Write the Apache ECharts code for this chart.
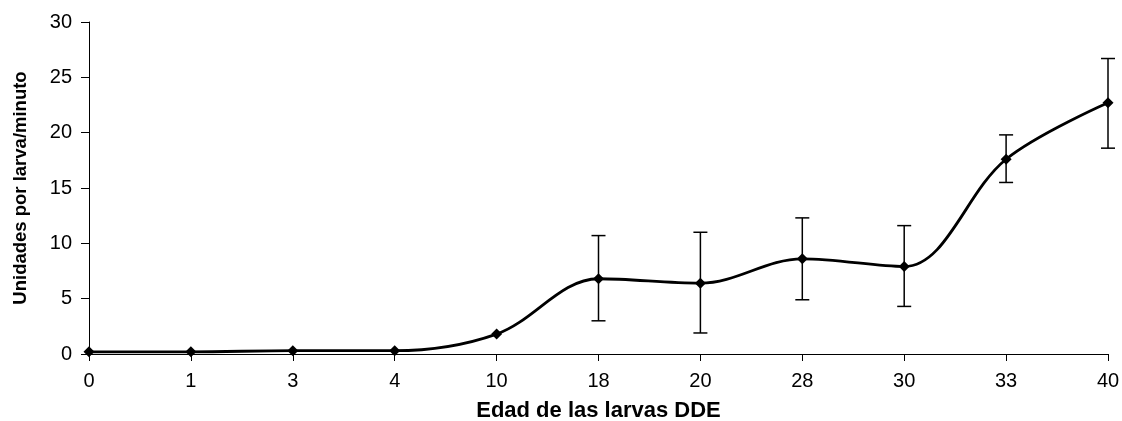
<!DOCTYPE html>
<html>
<head>
<meta charset="utf-8">
<script src="https://cdn.jsdelivr.net/npm/echarts@6/dist/echarts.min.js"></script>
<style>html,body{margin:0;padding:0;background:#fff}#c{width:1122px;height:421px}</style>
</head>
<body>
<div id="c"></div>
<script>
const categories = ['0','1','3','4','10','18','20','28','30','33','40'];
const values = [0.2, 0.2, 0.3, 0.3, 1.8, 6.8, 6.4, 8.6, 7.9, 17.6, 22.7];
const errLow = [null, null, null, null, null, 3.0, 1.9, 4.9, 4.3, 15.5, 18.6];
const errHigh = [null, null, null, null, null, 10.7, 11.0, 12.3, 11.6, 19.8, 26.7];
const yTicks = [0, 5, 10, 15, 20, 25, 30];

const errData = [];
categories.forEach((c, i) => { if (errLow[i] != null) errData.push([i, errLow[i], errHigh[i]]); });

const font = 'Liberation Sans, Arial, sans-serif';
const chart = echarts.init(document.getElementById('c'));
chart.setOption({
  animation: false,
  grid: { left: 89, right: 14, top: 22, bottom: 67, containLabel: false, outerBoundsMode: 'none' },
  xAxis: {
    type: 'category', data: categories, boundaryGap: false,
    axisLine: { lineStyle: { color: '#000', width: 1 } },
    axisTick: { show: true, alignWithLabel: true, length: 7, lineStyle: { color: '#000' } },
    axisLabel: { color: '#000', fontSize: 20, fontFamily: font, margin: 17 },
    name: 'Edad de las larvas DDE', nameLocation: 'middle', nameGap: 46,
    nameTextStyle: { color: '#000', fontSize: 22, fontWeight: 'bold', fontFamily: font }
  },
  yAxis: {
    type: 'value', min: yTicks[0], max: yTicks[yTicks.length - 1], interval: 5,
    splitLine: { show: false },
    axisLine: { show: true, lineStyle: { color: '#000', width: 1 } },
    axisTick: { show: true, inside: false, length: 8, lineStyle: { color: '#000' } },
    axisLabel: { color: '#000', fontSize: 20, fontFamily: font, margin: 17 },
    name: 'Unidades por larva/minuto', nameLocation: 'middle', nameGap: 59, nameRotate: 90,
    nameTextStyle: { color: '#000', fontSize: 18.5, fontWeight: 'bold', fontFamily: font }
  },
  series: [
    {
      type: 'line', data: values, smooth: 0.35,
      symbol: 'diamond', symbolSize: 11,
      lineStyle: { color: '#000', width: 2.8 },
      itemStyle: { color: '#000' }, z: 3
    },
    {
      type: 'custom', data: errData, z: 2,
      renderItem: function (params, api) {
        const i = api.value(0);
        const lo = api.coord([i, api.value(1)]);
        const hi = api.coord([i, api.value(2)]);
        const hw = 7;
        const st = { stroke: '#000', lineWidth: 1.5 };
        return {
          type: 'group',
          children: [
            { type: 'line', shape: { x1: lo[0], y1: lo[1], x2: hi[0], y2: hi[1] }, style: st },
            { type: 'line', shape: { x1: lo[0] - hw, y1: lo[1], x2: lo[0] + hw, y2: lo[1] }, style: st },
            { type: 'line', shape: { x1: hi[0] - hw, y1: hi[1], x2: hi[0] + hw, y2: hi[1] }, style: st }
          ]
        };
      }
    }
  ]
});
</script>
</body>
</html>
